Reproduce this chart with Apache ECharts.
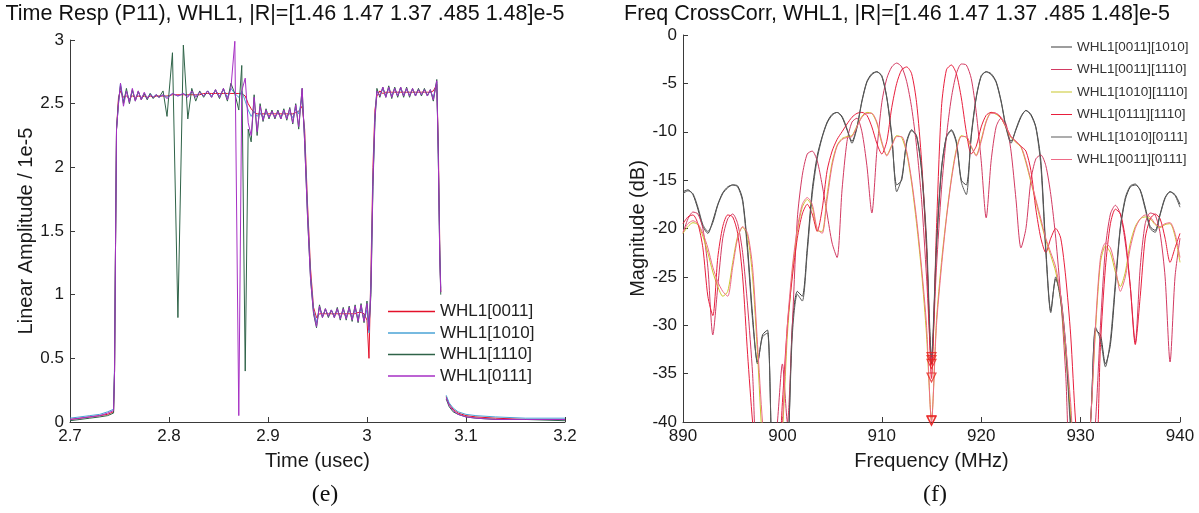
<!DOCTYPE html>
<html><head><meta charset="utf-8">
<script src="https://cdn.jsdelivr.net/npm/echarts@6/dist/echarts.min.js"></script>
<style>html,body{margin:0;padding:0;background:#fff}#c{width:1199px;height:513px}</style>
</head><body><div id="c"></div>
<script>
// ---------- Left chart (e): time response ----------
const timeUs = [2.700,2.710,2.720,2.730,2.738,2.744,2.745,2.746,2.747,2.749,
2.751,2.754,2.757,2.760,2.763,2.766,2.769,2.772,2.775,2.778,
2.781,2.784,2.787,2.790,2.794,2.798,2.8035,2.809,2.8145,2.819,
2.823,2.827,2.831,2.835,2.839,2.843,2.847,2.851,2.855,2.859,
2.8625,2.8665,2.8705,2.8735,2.877,2.880,2.883,2.886,2.889,2.892,
2.895,2.898,2.901,2.904,2.907,2.910,2.913,2.916,2.919,2.922,
2.925,2.928,2.931,2.9345,2.937,2.940,2.943,2.946,2.949,2.952,
2.955,2.958,2.961,2.964,2.967,2.970,2.973,2.976,2.979,2.982,
2.985,2.988,2.991,2.994,2.997,3.000,3.002,3.004,3.006,3.008,
3.010,3.013,3.016,3.019,3.022,3.025,3.028,3.031,3.034,3.037,
3.040,3.043,3.046,3.049,3.052,3.055,3.058,3.061,3.064,3.067,
3.0705,3.072,3.0735,3.0745,3.077,3.080,3.083,3.087,3.092,3.100,
3.110,3.130,3.160,3.200];
const amp0011 = [0.02,0.03,0.04,0.05,0.06,0.08,0.40,1.40,2.30,2.55,
2.60,2.55,2.56,2.54,2.56,2.55,2.56,2.55,2.56,2.55,
2.56,2.55,2.56,2.56,2.56,2.56,2.57,2.57,2.57,2.57,
2.57,2.57,2.57,2.58,2.58,2.58,2.58,2.58,2.58,2.58,
2.58,2.58,2.58,2.58,2.56,2.50,2.46,2.43,2.42,2.42,
2.42,2.42,2.42,2.42,2.42,2.42,2.42,2.42,2.42,2.42,
2.42,2.43,2.44,2.48,2.30,1.70,1.20,0.90,0.82,0.85,
0.85,0.85,0.85,0.85,0.85,0.85,0.85,0.85,0.85,0.85,
0.85,0.85,0.86,0.86,0.85,0.80,0.50,1.20,2.00,2.45,
2.56,2.60,2.58,2.59,2.59,2.59,2.59,2.59,2.59,2.59,
2.59,2.59,2.59,2.59,2.59,2.59,2.59,2.59,2.59,2.60,
2.65,2.20,1.40,1.02,null,0.20,0.14,0.10,0.07,0.05,
0.04,0.03,0.02,0.02];
const amp1010 = [0.03,0.04,0.05,0.06,0.08,0.10,0.45,1.40,2.30,2.50,
2.66,2.52,2.60,2.52,2.60,2.53,2.59,2.54,2.58,2.54,
2.58,2.55,2.57,2.55,2.57,2.55,2.58,2.56,2.58,2.56,
2.59,2.56,2.59,2.56,2.60,2.56,2.60,2.56,2.61,2.55,
2.62,2.58,2.55,2.60,2.52,2.45,2.40,2.44,2.40,2.43,
2.39,2.43,2.40,2.43,2.40,2.43,2.40,2.43,2.40,2.43,
2.39,2.46,2.42,2.55,2.25,1.65,1.15,0.88,0.78,0.90,
0.83,0.88,0.83,0.88,0.83,0.88,0.82,0.88,0.82,0.89,
0.81,0.89,0.81,0.90,0.80,0.88,0.70,1.10,1.90,2.40,
2.60,2.56,2.62,2.56,2.62,2.56,2.62,2.56,2.62,2.57,
2.61,2.57,2.61,2.57,2.61,2.57,2.61,2.57,2.60,2.55,
2.67,2.10,1.35,1.05,null,0.21,0.15,0.11,0.08,0.06,
0.05,0.04,0.03,0.03];
const amp1110 = [0.01,0.02,0.03,0.04,0.05,0.07,0.40,1.40,2.30,2.52,
2.64,2.50,2.62,2.50,2.61,2.52,2.60,2.53,2.58,2.53,
2.58,2.54,2.57,2.55,2.60,2.40,2.90,0.82,2.96,2.38,
2.62,2.52,2.60,2.55,2.60,2.55,2.61,2.54,2.62,2.52,
2.66,2.58,2.45,2.80,0.40,2.30,2.20,2.57,2.25,2.50,
2.36,2.46,2.38,2.45,2.38,2.45,2.38,2.46,2.37,2.47,
2.34,2.50,2.30,2.62,2.20,1.60,1.12,0.85,0.74,0.92,
0.82,0.89,0.82,0.88,0.82,0.90,0.80,0.90,0.80,0.91,
0.79,0.92,0.78,0.93,0.78,0.95,0.75,1.00,1.85,2.35,
2.62,2.55,2.63,2.55,2.64,2.54,2.63,2.55,2.63,2.55,
2.63,2.55,2.62,2.56,2.62,2.56,2.62,2.56,2.61,2.52,
2.69,2.10,1.30,1.00,null,0.18,0.12,0.08,0.06,0.04,
0.03,0.02,0.02,0.01];
const amp0111 = [0.02,0.03,0.04,0.05,0.07,0.09,0.40,1.40,2.30,2.50,
2.66,2.48,2.60,2.51,2.62,2.52,2.60,2.53,2.59,2.54,
2.57,2.55,2.57,2.55,2.57,2.54,2.58,2.56,2.58,2.55,
2.60,2.55,2.59,2.56,2.60,2.55,2.61,2.55,2.62,2.53,
2.62,2.99,0.05,2.60,2.70,2.35,2.25,2.55,2.28,2.48,
2.37,2.45,2.39,2.44,2.39,2.44,2.38,2.45,2.38,2.46,
2.35,2.49,2.32,2.62,2.20,1.60,1.12,0.86,0.75,0.91,
0.82,0.89,0.83,0.88,0.82,0.89,0.81,0.89,0.81,0.90,
0.80,0.91,0.79,0.92,0.79,0.93,0.72,1.05,1.88,2.38,
2.60,2.56,2.63,2.55,2.63,2.55,2.62,2.56,2.63,2.56,
2.62,2.56,2.62,2.56,2.61,2.57,2.61,2.56,2.61,2.53,
2.68,2.10,1.30,1.02,null,0.19,0.13,0.09,0.06,0.04,
0.03,0.02,0.02,0.02];
const leftNames = ['WHL1[0011]','WHL1[1010]','WHL1[1110]','WHL1[0111]'];

// ---------- Right chart (f): frequency cross-correlation ----------
const freqMHz = [890,890.5,891,891.5,892,892.5,893,893.5,894,894.5,
895,895.5,896,896.5,897,897.5,898,898.5,899,899.5,
900,900.5,901,901.5,902,902.5,903,903.5,904,904.5,
905,905.5,906,906.5,907,907.5,908,908.5,909,909.5,
910,910.5,911,911.5,912,912.5,913,913.5,914,914.5,
915,915.5,916,916.5,917,917.5,918,918.5,919,919.5,
920,920.5,921,921.5,922,922.5,923,923.5,924,924.5,
925,925.5,926,926.5,927,927.5,928,928.5,929,929.5,
930,930.5,931,931.5,932,932.5,933,933.5,934,934.5,
935,935.5,936,936.5,937,937.5,938,938.5,939,939.5,940];
const db_0011_1010 = [-16.2,-16.0,-16.5,-18.0,-19.8,-20.5,-19.2,-17.5,-16.3,-15.7,
-15.5,-15.6,-17.0,-22,-29,-34,-31,-30.5,-45,-48,
-45,-44,-30,-26.5,-27,-22,-16,-12.5,-10.5,-9,
-8.2,-8.0,-8.5,-9.8,-11,-9.5,-6.8,-4.8,-4,-3.8,
-4.3,-6.5,-10.5,-15.5,-15,-11,-9.8,-10.5,-14,-22,
-34,-22,-14,-10.5,-9.8,-11,-15,-15.5,-10.5,-6.5,
-4.3,-3.8,-4,-4.8,-6.8,-9.5,-11,-9.8,-8.5,-7.8,
-8.2,-9.5,-13,-22,-28.5,-25.2,-27,-32,-40,-48,
-44,-43,-40,-30.5,-31,-34,-32,-26,-20,-17,
-15.7,-15.5,-16,-17.8,-19.8,-20.2,-18.5,-16.8,-16.2,-16.5,-17.5];
const db_0011_1110 = [-20.5,-19,-18.3,-18.5,-20,-24,-31,-26,-21,-19,
-18.5,-19.5,-22.5,-28,-35,-45,-45,-45,-45,-40,
-34,-40,-30,-19,-14.5,-12.3,-12,-13,-15.5,-18.5,
-21.5,-23,-16,-11,-9,-8.6,-10,-13.5,-18.4,-12,
-7,-4.5,-3.3,-2.9,-3.3,-4.8,-7.5,-11.5,-17,-25,
-33.5,-24,-16,-10.5,-6.5,-4,-3,-3.1,-4.5,-8,
-13,-18.9,-13,-9.5,-8.6,-9.2,-12,-17,-22,-20,
-15,-12.8,-12.4,-13.5,-16.5,-21,-27,-35,-45,-45,
-45,-45,-45,-40,-30,-22,-18.5,-17.6,-18.5,-21.5,
-26,-31.8,-24,-19.5,-18.4,-18.6,-20.5,-25,-33.8,-25,-21];
const db_1010_1110 = [-20.5,-19.8,-19.4,-19.6,-20.8,-22.5,-24.5,-26,-27,-26.5,
-23.5,-20.8,-19.9,-20.8,-25,-33,-42,-45,-45,-45,
-41,-31,-24.5,-20.3,-17.8,-17,-17.8,-20.2,-20.3,-16.5,
-13.2,-11.4,-10.7,-10.5,-10.4,-9.4,-8.4,-8.0,-8.1,-9.1,
-11.2,-12.4,-11.4,-10.4,-10.6,-12.2,-15.3,-19.5,-24.5,-31,
-39.8,-29.5,-23.5,-18.8,-14.8,-11.8,-10.4,-10.6,-11.6,-12.4,
-10.8,-8.9,-8.0,-8.2,-8.6,-9.6,-10.6,-11.1,-11.6,-13.2,
-15.2,-17.2,-19.3,-21.2,-22.8,-24.5,-27.5,-33,-39,-45,
-45,-45,-40,-30.5,-23.5,-21.8,-22.5,-24.5,-26,-24.5,
-21.5,-19.8,-19,-18.8,-19,-19.6,-19.9,-19.6,-19.5,-20.8,-23.5];
const db_0111_1110 = [-19.5,-18.8,-18.6,-19.5,-22,-27,-29,-23,-19.8,-18.6,
-18.8,-20.5,-25,-33,-40,-45,-45,-45,-45,-45,
-38,-30,-25,-21,-18.5,-17.5,-18.5,-20.3,-18,-14,
-12,-10.8,-10,-9.2,-8.5,-8.1,-8.0,-8.3,-9.5,-11.2,
-12.3,-11,-7.5,-5,-3.6,-3.3,-4,-7,-13,-22,
-35.5,-20,-7.5,-3.6,-3.1,-4,-6.5,-10,-12.3,-11.5,
-9.5,-8.3,-8,-8.1,-8.6,-9.5,-10.5,-11,-11.5,-12,
-14,-18,-21,-22.5,-21,-20,-21,-25,-31,-40,
-45,-45,-45,-45,-32,-24,-19.5,-18,-18.5,-21,
-26,-32,-27,-21,-19,-18.5,-19,-21,-23.5,-22,-20.5];
const db_1010_0111 = [-16.4,-16.1,-16.4,-17.8,-19.6,-20.3,-19.4,-17.6,-16.4,-15.8,
-15.5,-15.7,-17.2,-22.5,-29.5,-33.8,-31.2,-30.8,-45,-48,
-46,-44,-31,-26.8,-27.5,-22.5,-16.5,-12.8,-10.6,-9.1,
-8.3,-8.0,-8.4,-9.7,-11.2,-9.6,-6.9,-4.9,-4.1,-3.8,
-4.2,-6.4,-10.3,-16.2,-14.8,-11.2,-9.9,-10.4,-13.8,-21,
-33.3,-21.5,-13.8,-10.6,-9.9,-11.2,-15.2,-16.5,-10.3,-6.4,
-4.2,-3.8,-4.1,-4.9,-6.9,-9.6,-11.2,-9.7,-8.4,-7.8,
-8.3,-9.6,-13.5,-22.5,-28.7,-25,-27.5,-32.5,-41,-48,
-45,-43,-40,-30.2,-31.5,-34.3,-31.5,-25.5,-19.8,-16.8,
-15.6,-15.4,-16.1,-18,-20,-20.4,-18.6,-16.9,-16.2,-16.6,-17.8];
const db_0011_0111 = [-20.3,-19.5,-19.2,-19.5,-20.5,-22,-24,-25.5,-26.5,-27,
-24,-21,-19.8,-20.5,-24,-32,-40,-45,-45,-45,
-40,-30,-24,-20,-17.5,-16.8,-17.5,-20,-20.5,-17,
-13.5,-11.5,-10.8,-10.6,-10.5,-9.5,-8.5,-8.1,-8.1,-9,
-11,-12.5,-11.5,-10.5,-10.5,-12,-15,-19,-24,-30,
-40,-30,-24,-19,-15,-12,-10.5,-10.5,-11.5,-12.5,
-11,-9,-8.1,-8.1,-8.5,-9.5,-10.5,-11,-11.5,-13,
-15,-17,-19,-21,-22.5,-24,-27,-32,-38,-45,
-45,-45,-40,-30,-23,-21.5,-22,-24,-26.5,-25,
-22,-20,-19,-18.6,-18.8,-19.5,-19.8,-19.5,-19.4,-20.5,-23];
const rightNames = ['WHL1[0011][1010]','WHL1[0011][1110]','WHL1[1010][1110]','WHL1[0111][1110]','WHL1[1010][0111]','WHL1[0011][0111]'];
const markerFreq = 915;
const markerDb = [-33.3,-33.6,-34.0,-35.4,-39.8,-39.9];

const FONT = '"Liberation Sans", Arial, sans-serif';
const SERIF = '"Liberation Serif", "Times New Roman", serif';
const leftColors = ['#e4102a','#4aa3d6','#2f6348','#a62fc4'];
const rightColors = ['#3a3a3a','#d23a62','#c9c62a','#e81e3c','#5a5a5a','#ef6a86'];

const leftVals = [amp0011, amp1010, amp1110, amp0111];
const rightVals = [db_0011_1010, db_0011_1110, db_1010_1110, db_0111_1110, db_1010_0111, db_0011_0111];

function axisCommon(){
  return {
    axisLine:{show:true,onZero:false,lineStyle:{color:'#3a3a3a',width:1}},
    axisTick:{show:true,inside:true,length:5,lineStyle:{color:'#3a3a3a'}},
    splitLine:{show:false},
    axisLabel:{color:'#1a1a1a',fontSize:17,fontFamily:FONT,margin:6},
    nameTextStyle:{color:'#1a1a1a',fontSize:20,fontFamily:FONT}
  };
}
const fmt1 = v => String(Math.round(v*10)/10);

const series = [];
leftVals.forEach((arr,k)=>{
  series.push({name:leftNames[k],type:'line',xAxisIndex:0,yAxisIndex:0,
    data: timeUs.map((t,i)=>[t,arr[i]]), showSymbol:false, connectNulls:false,
    lineStyle:{width:1,color:leftColors[k]}, itemStyle:{color:leftColors[k]}, animation:false});
});
rightVals.forEach((arr,k)=>{
  series.push({name:rightNames[k],type:'line',xAxisIndex:1,yAxisIndex:1,
    data: freqMHz.map((f,i)=>[f,arr[i]]), showSymbol:false, smooth:0.25,
    lineStyle:{width:1,color:rightColors[k]}, itemStyle:{color:rightColors[k]}, animation:false});
});
series.push({type:'scatter',xAxisIndex:1,yAxisIndex:1,data:markerDb.map(v=>[markerFreq,v]),
  symbol:'triangle',symbolRotate:180,symbolSize:9,
  itemStyle:{color:'rgba(255,255,255,0)',borderColor:'#e82020',borderWidth:1.2},animation:false,z:5});

const chart = echarts.init(document.getElementById('c'),null,{renderer:'canvas'});
chart.setOption({
  backgroundColor:'#ffffff',
  animation:false,
  grid:[{left:70,top:40,width:495,height:382},{left:683,top:35,width:497,height:387}],
  xAxis:[
    Object.assign(axisCommon(),{gridIndex:0,type:'value',min:2.7,max:3.2,interval:0.1,
      name:'Time (usec)',nameLocation:'middle',nameGap:29,
      axisLabel:Object.assign(axisCommon().axisLabel,{formatter:fmt1})}),
    Object.assign(axisCommon(),{gridIndex:1,type:'value',min:890,max:940,interval:10,
      name:'Frequency (MHz)',nameLocation:'middle',nameGap:29})
  ],
  yAxis:[
    Object.assign(axisCommon(),{gridIndex:0,type:'value',min:0,max:3,interval:0.5,
      name:'Linear Amplitude / 1e-5',nameLocation:'middle',nameGap:33,
      axisLabel:Object.assign(axisCommon().axisLabel,{formatter:fmt1,margin:6})}),
    Object.assign(axisCommon(),{gridIndex:1,type:'value',min:-40,max:0,interval:5,
      name:'Magnitude (dB)',nameLocation:'middle',nameGap:33})
  ],
  legend:[
    {data:leftNames.map(n=>({name:n,icon:'rect'})),orient:'vertical',left:386,top:302,
     itemWidth:47,itemHeight:1.5,itemGap:4.5,backgroundColor:'#ffffff',padding:[1,2],
     textStyle:{fontSize:17,fontFamily:FONT,color:'#222'},selectedMode:false},
    {data:rightNames.map(n=>({name:n,icon:'rect'})),orient:'vertical',left:1049,top:39,
     itemWidth:21,itemHeight:1,itemGap:8.5,backgroundColor:'#ffffff',padding:[1,2],
     textStyle:{fontSize:13.5,fontFamily:FONT,color:'#333'},selectedMode:false}
  ],
  graphic:[
    {type:'text',x:285,y:14,style:{text:'Time Resp (P11), WHL1, |R|=[1.46 1.47 1.37 .485 1.48]e-5',font:'21.5px '+FONT,fill:'#111',align:'center',verticalAlign:'middle'}},
    {type:'text',x:897,y:14,style:{text:'Freq CrossCorr, WHL1, |R|=[1.46 1.47 1.37 .485 1.48]e-5',font:'21.5px '+FONT,fill:'#111',align:'center',verticalAlign:'middle'}},
    {type:'text',x:325,y:495,style:{text:'(e)',font:'24px '+SERIF,fill:'#111',align:'center',verticalAlign:'middle'}},
    {type:'text',x:935,y:495,style:{text:'(f)',font:'24px '+SERIF,fill:'#111',align:'center',verticalAlign:'middle'}}
  ],
  series:series
});
</script></body></html>
